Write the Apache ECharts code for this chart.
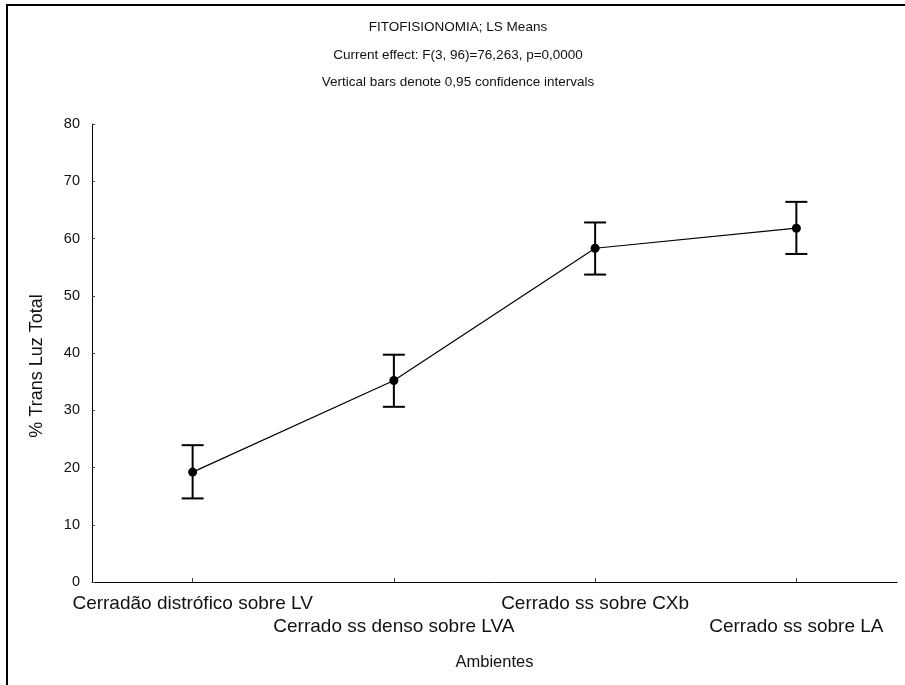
<!DOCTYPE html>
<html>
<head>
<meta charset="utf-8">
<script src="https://cdn.jsdelivr.net/npm/echarts@6/dist/echarts.min.js"></script>
<style>
  html, body { margin: 0; padding: 0; background: #fff; }
  #chart { width: 905px; height: 685px; }
</style>
</head>
<body>
<div id="chart"></div>
<script>
// LS means of total light transmission per vegetation type, with 0.95 CIs
const categories = [
  'Cerradão distrófico sobre LV',
  'Cerrado ss denso sobre LVA',
  'Cerrado ss sobre CXb',
  'Cerrado ss sobre LA'
];
const means = [19.2, 35.2, 58.3, 61.8];
const ciLower = [14.6, 30.6, 53.7, 57.3];
const ciUpper = [23.9, 39.7, 62.8, 66.4];
const yTicks = [0, 10, 20, 30, 40, 50, 60, 70, 80];

const titleLines = [
  'FITOFISIONOMIA; LS Means',
  'Current effect: F(3, 96)=76,263, p=0,0000',
  'Vertical bars denote 0,95 confidence intervals'
];
const yName = '% Trans Luz Total';
const xName = 'Ambientes';

const FONT = "'Liberation Sans', Arial, sans-serif";

const chart = echarts.init(document.getElementById('chart'), null, { renderer: 'canvas' });

const errorData = categories.map((c, i) => [i, ciLower[i], ciUpper[i]]);

chart.setOption({
  backgroundColor: '#ffffff',
  animation: false,
  textStyle: { fontFamily: FONT },
  title: {
    text: titleLines.join('\n'),
    left: 453,
    top: 9,
    textAlign: 'center',
    textStyle: {
      fontFamily: FONT,
      fontSize: 13.5,
      fontWeight: 'normal',
      color: '#111',
      lineHeight: 27.5
    }
  },
  graphic: [
    {
      type: 'polyline',
      shape: { points: [[7, 690], [7, 5], [910, 5]] },
      style: { stroke: '#000', lineWidth: 2, fill: null },
      silent: true
    },
    {
      type: 'text',
      x: 37,
      y: 366,
      rotation: Math.PI / 2,
      style: {
        text: yName,
        fontFamily: FONT,
        fontSize: 18,
        fill: '#111',
        textAlign: 'center',
        textVerticalAlign: 'middle'
      },
      silent: true
    }
  ],
  grid: { left: 92, right: 8, top: 124, bottom: 103 },
  xAxis: {
    type: 'category',
    data: categories,
    boundaryGap: true,
    name: xName,
    nameLocation: 'middle',
    nameGap: 72,
    nameTextStyle: { fontFamily: FONT, fontSize: 16.5, color: '#111' },
    axisLine: { lineStyle: { color: '#000', width: 1 } },
    axisTick: { show: true, alignWithLabel: true, inside: true, length: 4, lineStyle: { color: '#444' } },
    axisLabel: {
      interval: 0,
      margin: 10,
      fontFamily: FONT,
      fontSize: 19,
      color: '#111',
      lineHeight: 23,
      formatter: (v, i) => (i % 2 === 1 ? '\n' + v : v)
    },
    splitLine: { show: false }
  },
  yAxis: {
    type: 'value',
    min: yTicks[0],
    max: yTicks[yTicks.length - 1],
    interval: yTicks[1] - yTicks[0],
    axisLine: { show: true, lineStyle: { color: '#000', width: 1 } },
    axisTick: { show: true, inside: true, length: 3, lineStyle: { color: '#444' } },
    axisLabel: { margin: 12, fontFamily: FONT, fontSize: 14.5, color: '#111' },
    splitLine: { show: false }
  },
  series: [
    {
      type: 'custom',
      name: 'CI',
      data: errorData,
      z: 3,
      renderItem: function (params, api) {
        const x = api.coord([api.value(0), 0])[0];
        const lo = api.coord([api.value(0), api.value(1)])[1];
        const hi = api.coord([api.value(0), api.value(2)])[1];
        const half = 11;
        const style = { stroke: '#000', lineWidth: 2 };
        return {
          type: 'group',
          children: [
            { type: 'line', shape: { x1: x, y1: lo, x2: x, y2: hi }, style },
            { type: 'line', shape: { x1: x - half, y1: hi, x2: x + half, y2: hi }, style },
            { type: 'line', shape: { x1: x - half, y1: lo, x2: x + half, y2: lo }, style }
          ]
        };
      }
    },
    {
      type: 'line',
      name: 'LS Means',
      data: means,
      z: 4,
      symbol: 'circle',
      symbolSize: 9,
      itemStyle: { color: '#000' },
      lineStyle: { color: '#000', width: 1.2 }
    }
  ]
});
</script>
</body>
</html>
